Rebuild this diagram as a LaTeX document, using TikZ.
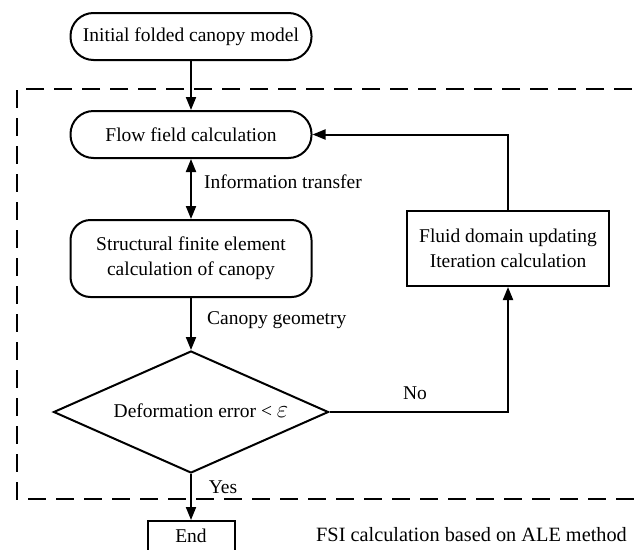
\documentclass[tikz,border=0pt]{standalone}
\usepackage{fontspec}
\setmainfont{Liberation Serif}
\usetikzlibrary{arrows.meta,shapes.geometric}
\begin{document}
\begin{tikzpicture}[x=1pt,y=-1pt,
 base/.style={draw, line width=2pt, inner sep=0pt, align=center, font=\fontsize{19.5}{25}\selectfont},
 pill/.style={base, rectangle, minimum width=241pt, minimum height=47pt, rounded corners=23pt},
 rbox/.style={base, rectangle, minimum width=241pt, minimum height=77pt, rounded corners=20pt},
 sbox/.style={base, rectangle},
 lbl/.style={font=\fontsize{19.5}{25}\selectfont, inner sep=0pt},
 conn/.style={line width=2pt, -{Triangle[length=13pt,width=10pt]}},
 dconn/.style={line width=2pt, {Triangle[length=13pt,width=10pt]}-{Triangle[length=13pt,width=10pt]}},
 frame/.style={line width=2pt, dash pattern=on 18pt off 10pt},
]
\path[use as bounding box] (0,0) rectangle (636,549);
\clip (0,0) rectangle (636,549);
\fill[white] (0,0) rectangle (636,549);
% dashed frame
\draw[frame] (660,89) -- (17,89) -- (17,499) -- (660,499);
% nodes
\node[pill] (init) at (191,36.5) {Initial folded canopy model};
\node[pill] (flow) at (191,134.5) {Flow field calculation};
\node[rbox] (struct) at (191,258.5) {Structural finite element\\calculation of canopy};
\node[sbox, minimum width=202pt, minimum height=75pt] (fluid) at (508,248.5) {Fluid domain updating\\Iteration calculation};
\node[base, diamond, minimum width=275pt, minimum height=122pt] (dec) at (191,412) {};
\node[lbl] (dectext) at (201,411) {Deformation error < {\fontsize{23}{25}\selectfont$\varepsilon$}};
\node[sbox, minimum width=87pt, minimum height=60pt, anchor=north] (end) at (191,520) {};
\node[lbl] (endtext) at (191,536) {End};
% connectors
\draw[conn] (init.south) -- (flow.north);
\draw[dconn] (flow.south) -- (struct.north);
\draw[conn] (struct.south) -- (dec.north);
\draw[conn] (dec.south) -- (end.north);
\draw[conn] (dec.east) -| (fluid.south);
\draw[conn] (fluid.north) |- (flow.east);
% labels
\node[lbl, anchor=west] (l1) at (204,182) {Information transfer};
\node[lbl, anchor=west] (l2) at (207,320) {Canopy geometry};
\node[lbl] (l3) at (415,393) {No};
\node[lbl] (l4) at (223,487) {Yes};
\node[lbl, anchor=west, font=\fontsize{20.3}{25}\selectfont] (l5) at (316,535) {FSI calculation based on ALE method};
\end{tikzpicture}
\end{document}
